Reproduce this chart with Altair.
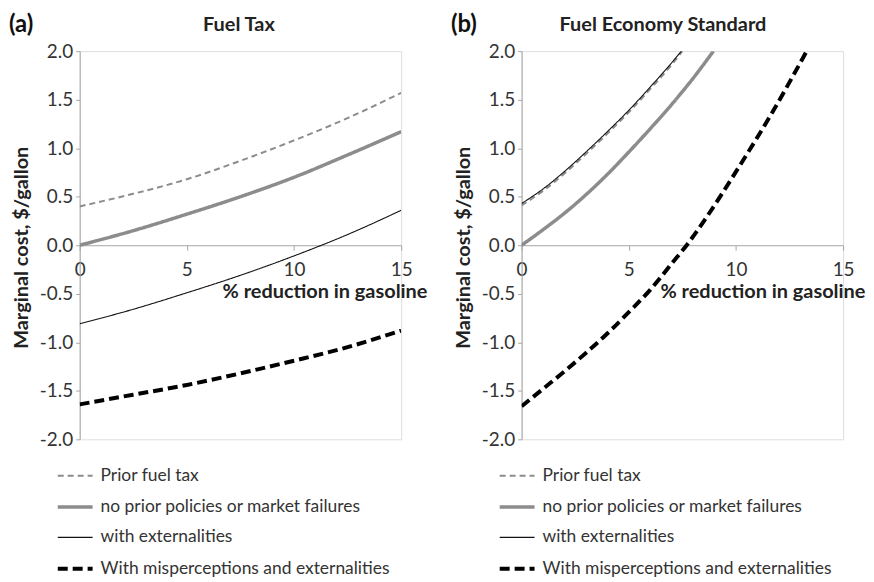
import altair as alt
import pandas as pd

series_names = [
    "Prior fuel tax",
    "no prior policies or market failures",
    "with externalities",
    "With misperceptions and externalities",
]

# Panel (a) Fuel Tax
a_x = [0, 2.5, 5, 7.5, 10, 12.5, 15]
a_prior = [0.40, 0.53, 0.68, 0.87, 1.08, 1.31, 1.57]
a_noprior = [0.0, 0.15, 0.32, 0.50, 0.70, 0.93, 1.17]
a_ext = [-0.81, -0.66, -0.49, -0.31, -0.11, 0.11, 0.36]
a_mis = [-1.64, -1.54, -1.44, -1.32, -1.19, -1.05, -0.88]

# Panel (b) Fuel Economy Standard
b_prior_x = [0, 1, 2, 3, 4, 5, 6, 7, 7.5]
b_prior = [0.41, 0.56, 0.74, 0.94, 1.15, 1.37, 1.61, 1.86, 2.0]
b_noprior_x = [0, 1, 2, 3, 4, 5, 6, 7, 8, 8.95]
b_noprior = [0.0, 0.16, 0.33, 0.52, 0.73, 0.96, 1.20, 1.45, 1.72, 2.0]
b_ext_x = [0, 1, 2, 3, 4, 5, 6, 7, 7.45]
b_ext = [0.43, 0.58, 0.76, 0.96, 1.17, 1.39, 1.63, 1.88, 2.0]
b_mis_x = [0, 1, 2, 3, 4, 5, 6, 7, 7.7, 8.6, 10.15, 11.7, 13.3]
b_mis = [-1.66, -1.48, -1.30, -1.11, -0.91, -0.69, -0.46, -0.19, 0.0, 0.28, 0.81, 1.37, 2.0]

x_ticks = [0, 5, 10, 15]
y_ticks = [-2.0, -1.5, -1.0, -0.5, 0.0, 0.5, 1.0, 1.5, 2.0]


def frame(pairs):
    rows = []
    for name, xs, ys in pairs:
        for i, (xv, yv) in enumerate(zip(xs, ys)):
            rows.append({"series": name, "x": xv, "y": yv, "order": i})
    return pd.DataFrame(rows)


df_a = frame([
    (series_names[0], a_x, a_prior),
    (series_names[1], a_x, a_noprior),
    (series_names[2], a_x, a_ext),
    (series_names[3], a_x, a_mis),
])
df_b = frame([
    (series_names[0], b_prior_x, b_prior),
    (series_names[1], b_noprior_x, b_noprior),
    (series_names[2], b_ext_x, b_ext),
    (series_names[3], b_mis_x, b_mis),
])

W, H = 323, 390
FONT = "Lato"
AXIS_COLOR = "#a6a6a6"
TEXT_COLOR = "#333333"


def panel(df, title, letter, title_x, xtitle_x):
    xaxis = alt.Axis(
        values=x_ticks, format="d", grid=False, offset=-H / 2,
        domainColor=AXIS_COLOR, tickColor=AXIS_COLOR, tickSize=5,
        labelFontSize=19, labelColor=TEXT_COLOR, labelFont=FONT, labelPadding=10,
        title="% reduction in gasoline", titleFont=FONT, titleFontSize=20,
        titleFontWeight="bold", titleColor="#222222", titleAlign="left",
        titleX=xtitle_x, titleY=47, titleBaseline="middle", labelFlush=False,
    )
    yaxis = alt.Axis(
        values=y_ticks, grid=False,
        labelExpr="replace(format(datum.value, '.1f'), '\u2212', '-')",
        domainColor=AXIS_COLOR, tickColor=AXIS_COLOR, tickSize=4,
        labelFontSize=19, labelColor=TEXT_COLOR, labelFont=FONT, labelPadding=3,
        title="Marginal cost, $/gallon", titleFont=FONT, titleFontSize=20,
        titleFontWeight="bold", titleColor="#222222",
        titleX=-58, titleY=H / 2 + 2, titleBaseline="middle", titleAlign="center",
    )
    lines = alt.Chart(df).mark_line(interpolate="monotone", clip=True).encode(
        x=alt.X("x:Q", scale=alt.Scale(domain=[0, 15], nice=False), axis=xaxis),
        y=alt.Y("y:Q", scale=alt.Scale(domain=[-2, 2], nice=False), axis=yaxis),
        order="order:Q",
        color=alt.Color(
            "series:N",
            scale=alt.Scale(domain=series_names,
                            range=["#8c8c8c", "#8c8c8c", "#111111", "#000000"]),
            legend=alt.Legend(
                title=None, orient="none", legendX=-24, legendY=408,
                symbolType="stroke", symbolSize=1225, labelFont=FONT,
                labelFontSize=17.5, labelColor=TEXT_COLOR, labelOffset=6,
                rowPadding=3.5, labelLimit=400,
            ),
        ),
        strokeDash=alt.StrokeDash(
            "series:N",
            scale=alt.Scale(domain=series_names,
                            range=[[6, 4], [1, 0], [1, 0], [10, 5]]),
        ),
        strokeWidth=alt.StrokeWidth(
            "series:N",
            scale=alt.Scale(type="ordinal", domain=series_names,
                            range=[2, 3.5, 1.1, 4]),
        ),
    )
    letter_mark = alt.Chart(pd.DataFrame({"t": [letter]})).mark_text(
        font=FONT, fontSize=24, fontWeight="bold", align="left",
        baseline="middle", color="#111111",
    ).encode(x=alt.value(-71), y=alt.value(-26), text="t:N")
    title_mark = alt.Chart(pd.DataFrame({"t": [title]})).mark_text(
        font=FONT, fontSize=20, fontWeight="bold", align="center",
        baseline="middle", color="#222222",
    ).encode(x=alt.value(title_x), y=alt.value(-26), text="t:N")
    return alt.layer(lines, letter_mark, title_mark).properties(width=W, height=H)


chart = alt.hconcat(
    panel(df_a, "Fuel Tax", "(a)", 160, 143),
    panel(df_b, "Fuel Economy Standard", "(b)", 142, 139),
    spacing=22,
).resolve_scale(color="independent", strokeDash="independent",
                strokeWidth="independent").properties(
    padding={"left": 0, "top": 3, "right": 0, "bottom": 0}
).configure_view(stroke=None).configure(background="white")

chart.save("out.html", embed_options={"renderer": "svg", "actions": False})
